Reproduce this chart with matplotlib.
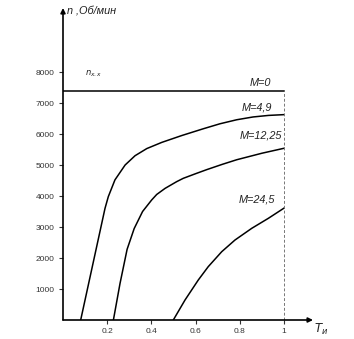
import matplotlib.pyplot as plt

plt.rcParams['font.family'] = ['Liberation Sans', 'DejaVu Sans']

# data
t_m0 = [0.0, 1.0]
n_m0 = [7400, 7400]

t_m49 = [0.08, 0.19, 0.205, 0.235, 0.281, 0.326, 0.379, 0.447, 0.537, 0.635, 0.71, 0.786, 0.86, 0.93, 1.0]
n_m49 = [0, 3600, 3980, 4520, 5000, 5300, 5530, 5730, 5950, 6170, 6330, 6460, 6550, 6600, 6625]

t_m1225 = [0.228, 0.258, 0.29, 0.322, 0.36, 0.401, 0.424, 0.462, 0.514, 0.544, 0.6, 0.65, 0.72, 0.786, 0.9, 1.0]
n_m1225 = [0, 1180, 2280, 2950, 3500, 3871, 4050, 4247, 4462, 4570, 4720, 4850, 5020, 5170, 5380, 5540]

t_m245 = [0.499, 0.552, 0.612, 0.657, 0.718, 0.778, 0.854, 0.929, 1.0]
n_m245 = [0, 645, 1290, 1720, 2203, 2580, 2958, 3280, 3610]

labels = ["M=0", "M=4,9", "M=12,25", "M=24,5"]
label_pos = [(0.94, 7650), (0.945, 6850), (0.99, 5950), (0.96, 3900)]

xticks = [0.2, 0.4, 0.6, 0.8, 1]
xticklabels = ["0.2", "0.4", "0.6", "0.8", "1"]
yticks = [1000, 2000, 3000, 4000, 5000, 6000, 7000, 8000]

fig = plt.figure(figsize=(3.54, 3.39), dpi=100)
ax = fig.add_axes([63 / 354, 19 / 339, 250 / 354, 312 / 339])
xmax, ymax = 1.131, 10065
ax.set_xlim(0, xmax)
ax.set_ylim(0, ymax)
for s in ax.spines.values():
    s.set_visible(False)

# axes with arrows
ax.annotate("", xy=(xmax, 0), xytext=(0, 0),
            arrowprops=dict(arrowstyle="-|>", color="black", lw=1.2,
                            mutation_scale=7, shrinkA=0, shrinkB=0),
            annotation_clip=False)
ax.annotate("", xy=(0, ymax), xytext=(0, 0),
            arrowprops=dict(arrowstyle="-|>", color="black", lw=1.2,
                            mutation_scale=7, shrinkA=0, shrinkB=0),
            annotation_clip=False)

ax.set_xticks(xticks)
ax.set_xticklabels(xticklabels)
ax.set_yticks(yticks)
ax.tick_params(axis='both', labelsize=6, length=3, width=0.8,
               colors='#333333', pad=3)

for t, n in [(t_m0, n_m0), (t_m49, n_m49), (t_m1225, n_m1225), (t_m245, n_m245)]:
    ax.plot(t, n, color='black', lw=1.1, solid_joinstyle='round')
ax.plot([1, 1], [0, 7400], color='#777777', lw=0.7, ls=(0, (3, 2)))

for lab, (x, y) in zip(labels, label_pos):
    ax.text(x, y, lab, fontsize=7.8, style='italic', ha='right', va='center',
            color='#222222')

ax.text(0.02, ymax - 90, "n ,Об/мин", fontsize=7.8, style='italic',
        ha='left', va='center', color='#222222')
ax.text(0.1, 7950, "$n_{x.x}$", fontsize=6, style='italic',
        ha='left', va='center', color='#222222')
ax.text(1.135, -300, "$T_и$", fontsize=8.5, ha='left', va='center',
        color='#222222')

fig.savefig("out.png", dpi=100)
